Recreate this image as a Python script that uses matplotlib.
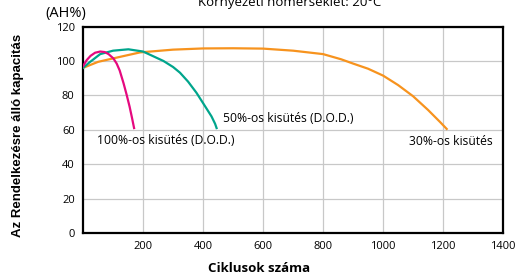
import matplotlib
matplotlib.use('Agg')
import matplotlib.pyplot as plt

plt.rcParams['font.family'] = ['Open Sans', 'DejaVu Sans']

# 100% D.O.D.
pink_x = [0, 12, 25, 40, 57, 72, 85, 101, 112, 122, 135, 145, 155, 163, 170]
pink_y = [97, 100.5, 103, 104.8, 105.5, 105.2, 104, 101.5, 98.5, 94.5, 87, 80.5, 73.5, 67, 61]

# 50% D.O.D.
teal_x = [0, 20, 57, 100, 151, 200, 268, 300, 323, 350, 378, 400, 428, 440, 445]
teal_y = [96, 99, 104, 106, 106.8, 105.5, 100, 96.5, 93.2, 88, 81.5, 75.5, 67.8, 63.5, 61]

# 30%
orange_x = [0, 50, 100, 190, 300, 400, 500, 600, 700, 800, 860, 900, 950, 1000,
            1050, 1100, 1150, 1190, 1212]
orange_y = [96, 99.5, 101.5, 105, 106.6, 107.3, 107.4, 107.2, 106, 104, 101, 98.5,
            95.5, 91.5, 86, 79.5, 71.5, 64.5, 60.5]

xticks = [200, 400, 600, 800, 1000, 1200, 1400]
yticks = [0, 20, 40, 60, 80, 100, 120]

fig = plt.figure(figsize=(5.16, 2.8), dpi=100)
ax = fig.add_axes([0.161, 0.168, 0.814, 0.737])

ax.plot(orange_x, orange_y, color='#F7931E', lw=1.6, zorder=3)
ax.plot(teal_x, teal_y, color='#00A58C', lw=1.6, zorder=4)
ax.plot(pink_x, pink_y, color='#E5097F', lw=1.6, zorder=5)

ax.set_xlim(0, 1400)
ax.set_ylim(0, 120)
ax.set_xticks(xticks)
ax.set_yticks(yticks)
ax.tick_params(length=0, labelsize=8, pad=6)
ax.grid(True, color='#c8c8c8', lw=0.9)
ax.set_axisbelow(True)
for s in ax.spines.values():
    s.set_linewidth(1.6)
    s.set_color('black')

ax.text(47, 54, '100%-os kisütés (D.O.D.)', fontsize=8.7, va='center')
ax.text(467, 66.5, '50%-os kisütés (D.O.D.)', fontsize=8.7, va='center')
ax.text(1087, 53, '30%-os kisütés', fontsize=8.7, va='center')

ax.set_xlabel('Ciklusok száma', fontsize=9.5, fontweight='bold', va='center')
ax.xaxis.set_label_coords(0.42, -0.17)
ax.set_ylabel('Az Rendelkezésre álló kapacitás', fontsize=9.5, fontweight='bold',
              family='Liberation Sans', va='center')
ax.yaxis.set_label_coords(-0.155, 0.475)

fig.text(66 / 516, 1 - 14 / 280, '(AH%)', fontsize=10.5, ha='center', va='center')
fig.text(290 / 516, 1 - 6 / 280, 'Környezeti hőmérséklet: 20°C', fontsize=9.5,
         ha='center', va='baseline')

fig.savefig('out.png', dpi=100)
